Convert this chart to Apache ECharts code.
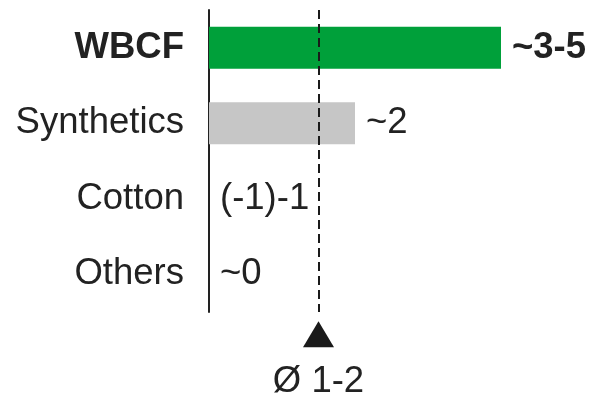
<!DOCTYPE html>
<html>
<head>
<meta charset="utf-8">
<script src="https://cdn.jsdelivr.net/npm/echarts@6/dist/echarts.min.js"></script>
<style>html,body{margin:0;padding:0;background:#fff}#c{width:593px;height:396px}</style>
</head>
<body>
<div id="c"></div>
<script>
var categories = ['WBCF', 'Synthetics', 'Cotton', 'Others'];
var values = [4, 2, 0, 0];
var valueLabels = ['~3-5', '~2', '(-1)-1', '~0'];
var barColors = ['#00a03a', '#c6c6c6', '#c6c6c6', '#c6c6c6'];
var averageValue = 1.5;
var averageLabel = '\u00d8 1-2';

var FONT = 'Liberation Sans';
var FS = 36.5;
var chart = echarts.init(document.getElementById('c'));
chart.setOption({
  animation: false,
  grid: { left: 209, top: 10, width: 365, height: 302, containLabel: false },
  xAxis: {
    type: 'value', min: 0, max: 5,
    show: false
  },
  yAxis: {
    type: 'category', data: categories, inverse: true,
    axisLine: { show: true, lineStyle: { color: '#222', width: 2 } },
    axisTick: { show: false },
    axisLabel: {
      margin: 25, fontSize: FS, fontFamily: FONT, color: '#222',
      formatter: function (v, i) { return i === 0 ? '{b|' + v + '}' : v; },
      rich: { b: { fontWeight: 'bold', fontSize: FS, fontFamily: FONT, color: '#222' } }
    }
  },
  series: [{
    type: 'bar',
    barWidth: 42,
    data: values.map(function (v, i) {
      return {
        value: v,
        itemStyle: { color: barColors[i] },
        label: { formatter: valueLabels[i], fontWeight: i === 0 ? 'bold' : 'normal' }
      };
    }),
    label: {
      show: true, position: 'right', distance: 11,
      fontSize: FS, fontFamily: FONT, color: '#222'
    },
    markLine: {
      silent: true, symbol: 'none',
      lineStyle: { color: '#1a1a1a', width: 2, type: [9, 5] },
      label: { show: false },
      data: [{ xAxis: averageValue }]
    },
    markPoint: {
      silent: true,
      symbol: 'triangle', symbolSize: [31, 26], symbolOffset: [0, 60],
      itemStyle: { color: '#1a1a1a' },
      label: {
        show: true, position: 'bottom', distance: 16, formatter: averageLabel,
        fontSize: FS, fontFamily: FONT, color: '#222'
      },
      data: [{ coord: [averageValue, 'Others'] }]
    }
  }]
});
</script>
</body>
</html>
